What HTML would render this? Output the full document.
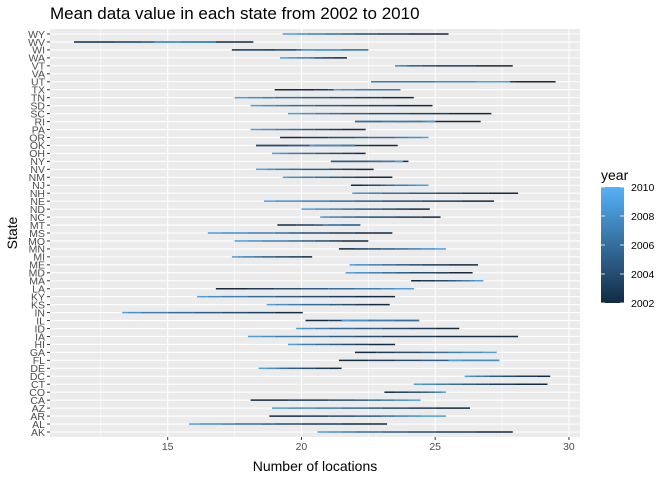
<!DOCTYPE html>
<html><head><meta charset="utf-8"><style>
body{margin:0;background:#fff;}
svg text{font-family:"Liberation Sans",sans-serif;}
</style></head><body>
<svg id="chart" width="672" height="480" xmlns="http://www.w3.org/2000/svg">
<defs><linearGradient id="lg" x1="0" y1="1" x2="0" y2="0"><stop offset="0" stop-color="#132B43"/><stop offset="1" stop-color="#56B1F7"/></linearGradient></defs>
<text x="50" y="19" font-size="17" fill="#000">Mean data value in each state from 2002 to 2010</text>
<rect x="50" y="29" width="530" height="408" fill="#EBEBEB"/>
<g id="grid"></g><g id="marks"></g><g id="axes"></g>
<text x="315" y="471" font-size="14" text-anchor="middle">Number of locations</text>
<text transform="translate(17,233) rotate(-90)" font-size="14" text-anchor="middle">State</text>
<g>
<text x="601" y="180" font-size="14">year</text>
<rect x="601" y="187" width="23" height="116" fill="url(#lg)"/>
<g id="legend"></g>
</g>
</svg>
<script>
const states=["AK","AL","AR","AZ","CA","CO","CT","DC","DE","FL","GA","HI","IA","ID","IL","IN","KS","KY","LA","MA","MD","ME","MI","MN","MO","MS","MT","NC","ND","NE","NH","NJ","NM","NV","NY","OH","OK","OR","PA","RI","SC","SD","TN","TX","UT","VA","VT","WA","WI","WV","WY"];
const years=[2002,2003,2004,2005,2006,2007,2008,2009,2010];
const xTicks=[15,20,25,30];
const legendTicks=[2002,2004,2006,2008,2010];
const AK=[27.9,26.5,25.0,24.0,23.0,22.0,21.5,21.0,20.6];
const AL=[23.2,21.5,20.0,19.0,18.5,17.5,17.0,16.2,15.8];
const AR=[18.8,20.0,21.0,22.0,23.0,23.5,24.0,24.5,25.4];
const AZ=[26.3,25.0,24.0,23.0,22.5,21.5,20.5,19.5,18.9];
const CA=[18.1,19.5,21.0,22.0,22.5,23.0,23.5,24.0,24.45];
const CO=[23.1,23.5,24.0,24.5,24.8,25.0,25.2,25.3,25.4];
const CT=[29.2,28.0,27.0,26.5,26.0,25.5,25.0,24.5,24.2];
const DC=[29.3,28.8,28.0,27.5,27.0,26.8,26.5,26.3,26.1];
const DE=[21.5,21.0,20.5,20.0,19.5,19.2,19.0,18.7,18.4];
const FL=[21.4,22.5,23.5,24.5,25.5,26.5,27.4,26.0,25.5];
const GA=[22.0,22.8,23.5,24.5,25.0,25.5,26.0,26.8,27.3];
const HI=[23.5,22.5,22.0,21.5,21.0,20.5,20.0,19.8,19.5];
const IA=[28.1,25.0,23.0,22.0,21.0,20.0,19.0,18.5,18.0];
const ID=[25.9,25.0,24.0,23.0,22.0,21.0,20.5,20.0,19.8];
const IL=[20.15,21.0,22.0,23.0,24.4,23.5,22.5,21.8,21.5];
const IN=[20.05,19.0,18.0,17.0,16.0,15.0,14.0,13.5,13.3];
const KS=[23.3,22.5,22.0,21.5,21.0,20.0,19.5,19.0,18.7];
const KY=[23.5,22.0,21.0,20.0,19.0,18.0,17.0,16.5,16.1];
const LA=[16.8,18.0,19.0,20.0,21.0,22.0,23.0,24.2,23.5];
const MA=[24.1,24.5,25.0,25.5,25.8,26.0,26.3,26.5,26.8];
const MD=[26.4,25.5,25.0,24.0,23.5,23.0,22.5,22.0,21.65];
const ME=[26.6,25.5,24.5,24.0,23.5,23.0,22.5,22.0,21.8];
const MI=[20.4,20.0,19.5,19.0,18.5,18.2,17.8,17.6,17.4];
const MN=[21.4,22.0,22.5,23.0,23.5,24.0,24.5,25.0,25.4];
const MO=[22.5,21.5,21.0,20.5,20.0,19.5,18.5,18.0,17.5];
const MS=[23.4,22.0,21.0,20.0,19.5,19.0,18.0,17.0,16.5];
const MT=[19.1,19.8,20.5,21.0,22.2,21.5,21.0,20.8,20.8];
const NC=[25.2,24.5,23.5,22.5,22.0,21.5,21.0,20.8,20.7];
const ND=[24.8,24.0,23.5,23.0,22.0,21.5,21.0,20.5,20.0];
const NE=[27.2,26.0,24.5,23.0,22.0,21.0,20.0,19.0,18.6];
const NH=[28.1,27.0,26.0,25.0,24.0,23.0,22.5,22.0,21.9];
const NJ=[21.85,22.3,22.5,23.0,23.2,23.5,24.0,24.3,24.75];
const NM=[23.4,22.5,22.0,21.5,21.0,20.5,20.0,19.5,19.3];
const NV=[22.7,22.0,21.5,21.0,20.0,19.5,19.0,18.7,18.3];
const NY=[24.0,23.0,22.0,21.1,22.5,23.0,23.5,23.8,23.5];
const OH=[22.4,22.0,21.5,21.0,20.5,20.0,19.5,19.2,18.9];
const OK=[23.6,22.5,18.3,19.5,21.0,22.0,21.5,20.5,20.3];
const OR=[19.2,20.0,21.0,22.0,22.5,23.5,24.0,24.5,24.75];
const PA=[22.4,21.5,21.0,20.5,20.0,19.5,19.0,18.5,18.1];
const RI=[26.7,25.0,24.0,23.5,22.0,23.0,24.5,25.0,24.7];
const SC=[27.1,25.5,24.0,22.5,21.5,21.0,20.5,20.0,19.5];
const SD=[24.9,23.5,22.5,21.5,20.5,19.5,19.0,18.5,18.1];
const TN=[24.2,23.0,22.0,21.0,20.0,19.0,18.5,18.0,17.5];
const TX=[19.0,20.5,21.0,22.0,22.5,23.7,22.0,21.5,21.2];
const UT=[29.5,28.0,27.0,25.5,24.0,22.6,25.0,26.5,27.8];
const VA=[24,24,24,24,24,24,24,24,24];
const VT=[27.9,26.5,25.0,24.5,24.0,23.9,23.5,23.7,23.5];
const WA=[21.7,21.2,20.8,20.5,20.8,20.3,19.8,19.5,19.2];
const WI=[19.8,18.6,17.4,19.0,21.0,22.5,20.5,21.5,20.0];
const WV=[18.2,16.5,11.5,13.0,14.0,15.2,16.8,15.5,14.5];
const WY=[25.5,24.0,22.8,22.0,21.5,20.9,20.2,19.8,19.3];
const values={AK,AL,AR,AZ,CA,CO,CT,DC,DE,FL,GA,HI,IA,ID,IL,IN,KS,KY,LA,MA,MD,ME,MI,MN,MO,MS,MT,NC,ND,NE,NH,NJ,NM,NV,NY,OH,OK,OR,PA,RI,SC,SD,TN,TX,UT,VA,VT,WA,WI,WV,WY};

const NS="http://www.w3.org/2000/svg";
const X0=50,X1=580,Y0=29,Y1=437;
function xs(v){return 167.7+(v-15)*26.75;}
function ys(i){return 432-i*7.96;}
function ly(y){return 303-(y-2002)/8*116;}
function col(y){const t=(y-2002)/8;const a=[0x13,0x2B,0x43],b=[0x56,0xB1,0xF7];return "rgb("+a.map((c,k)=>Math.round(c+(b[k]-c)*t)).join(",")+")";}
function mk(tag,at,parent){const e=document.createElementNS(NS,tag);for(const k in at)e.setAttribute(k,at[k]);parent.appendChild(e);return e;}
const grid=document.getElementById('grid'),marks=document.getElementById('marks'),axes=document.getElementById('axes'),leg=document.getElementById('legend');
const minors=[];for(let i=0;i<xTicks.length;i++){minors.push(xTicks[i]-2.5);}minors.push(xTicks[xTicks.length-1]+2.5);
minors.forEach(v=>{const x=xs(v);if(x>X0&&x<X1){const l=mk('line',{x1:x,x2:x,y1:Y0,y2:Y1,stroke:'#fff','stroke-width':0.55},grid);

}});
xTicks.forEach(v=>{const x=xs(v);const l=mk('line',{x1:x,x2:x,y1:Y0,y2:Y1,stroke:'#fff','stroke-width':1.1},grid);


const tk=mk('line',{x1:x,x2:x,y1:Y1,y2:Y1+3,stroke:'#333','stroke-width':1},axes);


const t=mk('text',{x:x,y:Y1+13,'font-size':10.5,fill:'#4D4D4D','text-anchor':'middle'},axes);t.textContent=v;

});
states.forEach((s,i)=>{const y=ys(i);
const g=mk('line',{x1:X0,x2:X1,y1:y,y2:y,stroke:'#fff','stroke-width':1.1},grid);


const tk=mk('line',{x1:X0-3,x2:X0,y1:y,y2:y,stroke:'#333','stroke-width':1},axes);


const t=mk('text',{x:X0-5,y:y+3.8,'font-size':10.5,fill:'#4D4D4D','text-anchor':'end'},axes);t.textContent=s;


const vals=values[s];const grp=mk('g',{},marks);


for(let k=0;k<vals.length-1;k++){const seg=mk('line',{x1:xs(vals[k]),x2:xs(vals[k+1]),y1:y,y2:y,stroke:col(years[k]),'stroke-width':1.5},grp);

}});
legendTicks.forEach(v=>{const y=ly(v);
const a=mk('line',{x1:601,x2:605,y1:y,y2:y,stroke:'#fff','stroke-width':0.8},leg);


const b=mk('line',{x1:620,x2:624,y1:y,y2:y,stroke:'#fff','stroke-width':0.8},leg);


const t=mk('text',{x:631,y:y+4,'font-size':10.5,fill:'#000'},leg);t.textContent=v;

});
</script>
</body></html>
